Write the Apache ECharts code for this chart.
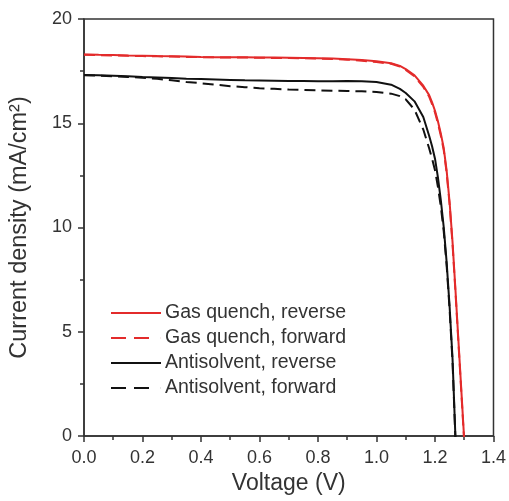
<!DOCTYPE html>
<html><head><meta charset="utf-8">
<script src="https://cdn.jsdelivr.net/npm/echarts@6/dist/echarts.min.js"></script>
<style>html,body{margin:0;padding:0;background:#fff}#c{width:509px;height:501px}</style>
</head><body><div id="c"></div>
<script>
const voltage = [0,0.05,0.10,0.15,0.20,0.25,0.30,0.35,0.40,0.45,0.50,0.55,0.60,0.65,0.70,0.75,0.80,0.85,0.90,0.95,1.00,1.05,1.08,1.10,1.13,1.16,1.18,1.19,1.20,1.21,1.22,1.23,1.24,1.25,1.26,1.27,1.28,1.29,1.30];
const gasQuenchReverse = [18.30,18.28,18.27,18.25,18.24,18.22,18.21,18.20,18.18,18.17,18.17,18.16,18.15,18.15,18.14,18.13,18.12,18.10,18.07,18.03,17.97,17.88,17.75,17.60,17.30,16.80,16.35,16.00,15.60,15.10,14.50,13.80,12.70,11.20,9.30,7.00,4.60,2.20,-0.20];
const gasQuenchForward = [18.28,18.27,18.25,18.24,18.22,18.21,18.20,18.18,18.17,18.16,18.15,18.15,18.14,18.13,18.13,18.12,18.10,18.08,18.05,18.00,17.94,17.85,17.72,17.56,17.25,16.74,16.28,15.92,15.52,15.00,14.40,13.70,12.60,11.10,9.20,6.90,4.50,2.10,-0.30];
const antisolventReverse = [17.32,17.30,17.28,17.25,17.22,17.20,17.17,17.14,17.12,17.10,17.08,17.06,17.05,17.04,17.03,17.03,17.02,17.02,17.03,17.02,16.98,16.85,16.65,16.45,16.05,15.30,14.40,13.90,13.30,12.40,11.30,10.00,8.30,6.20,3.70,-0.10,-3.0,-6.0,-9.0];
const antisolventForward = [17.30,17.28,17.25,17.22,17.18,17.13,17.06,16.98,16.92,16.85,16.78,16.73,16.68,16.65,16.62,16.60,16.58,16.56,16.55,16.53,16.50,16.42,16.30,16.15,15.65,14.70,13.80,13.30,12.75,11.95,11.00,9.80,8.15,6.05,3.55,-0.20,-3.0,-6.0,-9.0];
const seriesNames = ['Gas quench, reverse','Gas quench, forward','Antisolvent, reverse','Antisolvent, forward'];
const xTicks = {min:0, max:1.4, interval:0.2};
const yTicks = {min:0, max:20, interval:5};

const pairs = arr => voltage.map((v,i)=>[v, arr[i]]);
const txt = '#333';
const font = 'Liberation Sans, Arial, sans-serif';
const solidIcon = 'path://M0,0h50v2h-50z';
const dashIcon = 'path://M0,0h15v2h-15zM23,0h15v2h-15zM49.9,0h0.1v2h-0.1z';
const chart = echarts.init(document.getElementById('c'));
const mk = (name, arr, color, dashed) => ({
  name, type:'line', data: pairs(arr), symbol:'none', showSymbol:false, clip:true,
  lineStyle:{color, width:2, type: dashed ? [11,6] : 'solid'},
  itemStyle:{color}, smooth:false, animation:false
});
chart.setOption({
  animation:false,
  textStyle:{fontFamily:font},
  grid:{left:80,right:12,top:19,bottom:65,show:true,borderColor:'#333',borderWidth:1.5,backgroundColor:'transparent'},
  legend:{
    orient:'vertical', left:106, top:298, itemWidth:50, itemHeight:2, itemGap:5,
    textStyle:{fontSize:19.5,color:txt,fontFamily:font,padding:[0,0,0,-1]},
    data: seriesNames.map((n,i)=>({name:n, icon: i%2 ? dashIcon : solidIcon}))
  },
  xAxis:{
    type:'value', min:xTicks.min, max:xTicks.max, interval:xTicks.interval,
    name:'Voltage (V)', nameLocation:'middle', nameGap:36,
    nameTextStyle:{fontSize:23,color:txt,fontFamily:font},
    axisLine:{show:true,lineStyle:{color:'#333',width:1.5}},
    axisTick:{show:true,inside:false,length:6,lineStyle:{color:'#333',width:1.5}},
    minorTick:{show:true,splitNumber:2,length:4,lineStyle:{color:'#333',width:1.5}},
    axisLabel:{fontSize:18,color:txt,margin:13,formatter:v=>v.toFixed(1),fontFamily:font},
    splitLine:{show:false}
  },
  yAxis:{
    type:'value', min:yTicks.min, max:yTicks.max, interval:yTicks.interval,
    name:'Current density (mA/cm²)', nameLocation:'middle', nameGap:52,
    nameTextStyle:{fontSize:23.5,color:txt,fontFamily:font},
    axisLine:{show:true,lineStyle:{color:'#333',width:1.5}},
    axisTick:{show:true,inside:false,length:6,lineStyle:{color:'#333',width:1.5}},
    minorTick:{show:true,splitNumber:2,length:4,lineStyle:{color:'#333',width:1.5}},
    axisLabel:{fontSize:18,color:txt,margin:12,fontFamily:font},
    splitLine:{show:false}
  },
  series:[
    mk(seriesNames[0], gasQuenchReverse, '#e32b2b', false),
    mk(seriesNames[1], gasQuenchForward, '#e32b2b', true),
    mk(seriesNames[2], antisolventReverse, '#111', false),
    mk(seriesNames[3], antisolventForward, '#111', true)
  ]
});
</script></body></html>
